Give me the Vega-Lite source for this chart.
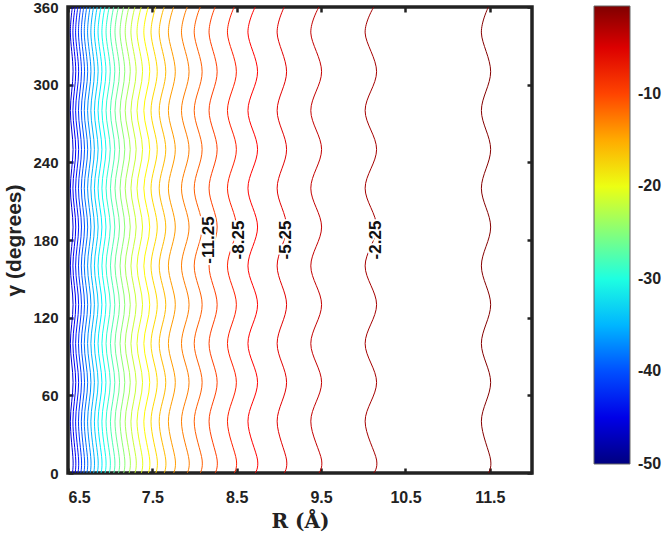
{
"$schema": "https://vega.github.io/schema/vega-lite/v6.json",
"width": 464, "height": 466,
"autosize": "none",
"padding": {"left": 68, "top": 7, "right": 132, "bottom": 60},
"background": "white",
"config": {"view": {"stroke": "#222", "strokeWidth": 3.5}, "font": "Liberation Sans"},
"datasets": {
"c": [
{"v":-45.75,"g":0,"r":6.552},{"v":-45.75,"g":10,"r":6.56},{"v":-45.75,"g":40,"r":6.528},{"v":-45.75,"g":70,"r":6.56},{"v":-45.75,"g":100,"r":6.528},{"v":-45.75,"g":130,"r":6.56},{"v":-45.75,"g":160,"r":6.528},{"v":-45.75,"g":190,"r":6.56},{"v":-45.75,"g":220,"r":6.528},{"v":-45.75,"g":250,"r":6.56},{"v":-45.75,"g":280,"r":6.528},{"v":-45.75,"g":310,"r":6.56},{"v":-45.75,"g":340,"r":6.528},{"v":-45.75,"g":360,"r":6.552},
{"v":-44.25,"g":0,"r":6.584},{"v":-44.25,"g":10,"r":6.592},{"v":-44.25,"g":40,"r":6.558},{"v":-44.25,"g":70,"r":6.592},{"v":-44.25,"g":100,"r":6.558},{"v":-44.25,"g":130,"r":6.592},{"v":-44.25,"g":160,"r":6.558},{"v":-44.25,"g":190,"r":6.592},{"v":-44.25,"g":220,"r":6.558},{"v":-44.25,"g":250,"r":6.592},{"v":-44.25,"g":280,"r":6.558},{"v":-44.25,"g":310,"r":6.592},{"v":-44.25,"g":340,"r":6.558},{"v":-44.25,"g":360,"r":6.584},
{"v":-42.75,"g":0,"r":6.617},{"v":-42.75,"g":10,"r":6.626},{"v":-42.75,"g":40,"r":6.59},{"v":-42.75,"g":70,"r":6.626},{"v":-42.75,"g":100,"r":6.59},{"v":-42.75,"g":130,"r":6.626},{"v":-42.75,"g":160,"r":6.59},{"v":-42.75,"g":190,"r":6.626},{"v":-42.75,"g":220,"r":6.59},{"v":-42.75,"g":250,"r":6.626},{"v":-42.75,"g":280,"r":6.59},{"v":-42.75,"g":310,"r":6.626},{"v":-42.75,"g":340,"r":6.59},{"v":-42.75,"g":360,"r":6.617},
{"v":-41.25,"g":0,"r":6.651},{"v":-41.25,"g":10,"r":6.66},{"v":-41.25,"g":40,"r":6.624},{"v":-41.25,"g":70,"r":6.66},{"v":-41.25,"g":100,"r":6.624},{"v":-41.25,"g":130,"r":6.66},{"v":-41.25,"g":160,"r":6.624},{"v":-41.25,"g":190,"r":6.66},{"v":-41.25,"g":220,"r":6.624},{"v":-41.25,"g":250,"r":6.66},{"v":-41.25,"g":280,"r":6.624},{"v":-41.25,"g":310,"r":6.66},{"v":-41.25,"g":340,"r":6.624},{"v":-41.25,"g":360,"r":6.651},
{"v":-39.75,"g":0,"r":6.687},{"v":-39.75,"g":10,"r":6.696},{"v":-39.75,"g":40,"r":6.658},{"v":-39.75,"g":70,"r":6.696},{"v":-39.75,"g":100,"r":6.658},{"v":-39.75,"g":130,"r":6.696},{"v":-39.75,"g":160,"r":6.658},{"v":-39.75,"g":190,"r":6.696},{"v":-39.75,"g":220,"r":6.658},{"v":-39.75,"g":250,"r":6.696},{"v":-39.75,"g":280,"r":6.658},{"v":-39.75,"g":310,"r":6.696},{"v":-39.75,"g":340,"r":6.658},{"v":-39.75,"g":360,"r":6.687},
{"v":-38.25,"g":0,"r":6.723},{"v":-38.25,"g":10,"r":6.733},{"v":-38.25,"g":40,"r":6.693},{"v":-38.25,"g":70,"r":6.733},{"v":-38.25,"g":100,"r":6.693},{"v":-38.25,"g":130,"r":6.733},{"v":-38.25,"g":160,"r":6.693},{"v":-38.25,"g":190,"r":6.733},{"v":-38.25,"g":220,"r":6.693},{"v":-38.25,"g":250,"r":6.733},{"v":-38.25,"g":280,"r":6.693},{"v":-38.25,"g":310,"r":6.733},{"v":-38.25,"g":340,"r":6.693},{"v":-38.25,"g":360,"r":6.723},
{"v":-36.75,"g":0,"r":6.762},{"v":-36.75,"g":10,"r":6.772},{"v":-36.75,"g":40,"r":6.732},{"v":-36.75,"g":70,"r":6.772},{"v":-36.75,"g":100,"r":6.732},{"v":-36.75,"g":130,"r":6.772},{"v":-36.75,"g":160,"r":6.732},{"v":-36.75,"g":190,"r":6.772},{"v":-36.75,"g":220,"r":6.732},{"v":-36.75,"g":250,"r":6.772},{"v":-36.75,"g":280,"r":6.732},{"v":-36.75,"g":310,"r":6.772},{"v":-36.75,"g":340,"r":6.732},{"v":-36.75,"g":360,"r":6.762},
{"v":-35.25,"g":0,"r":6.803},{"v":-35.25,"g":10,"r":6.813},{"v":-35.25,"g":40,"r":6.771},{"v":-35.25,"g":70,"r":6.813},{"v":-35.25,"g":100,"r":6.771},{"v":-35.25,"g":130,"r":6.813},{"v":-35.25,"g":160,"r":6.771},{"v":-35.25,"g":190,"r":6.813},{"v":-35.25,"g":220,"r":6.771},{"v":-35.25,"g":250,"r":6.813},{"v":-35.25,"g":280,"r":6.771},{"v":-35.25,"g":310,"r":6.813},{"v":-35.25,"g":340,"r":6.771},{"v":-35.25,"g":360,"r":6.803},
{"v":-33.75,"g":0,"r":6.846},{"v":-33.75,"g":10,"r":6.857},{"v":-33.75,"g":40,"r":6.813},{"v":-33.75,"g":70,"r":6.857},{"v":-33.75,"g":100,"r":6.813},{"v":-33.75,"g":130,"r":6.857},{"v":-33.75,"g":160,"r":6.813},{"v":-33.75,"g":190,"r":6.857},{"v":-33.75,"g":220,"r":6.813},{"v":-33.75,"g":250,"r":6.857},{"v":-33.75,"g":280,"r":6.813},{"v":-33.75,"g":310,"r":6.857},{"v":-33.75,"g":340,"r":6.813},{"v":-33.75,"g":360,"r":6.846},
{"v":-32.25,"g":0,"r":6.891},{"v":-32.25,"g":10,"r":6.902},{"v":-32.25,"g":40,"r":6.856},{"v":-32.25,"g":70,"r":6.902},{"v":-32.25,"g":100,"r":6.856},{"v":-32.25,"g":130,"r":6.902},{"v":-32.25,"g":160,"r":6.856},{"v":-32.25,"g":190,"r":6.902},{"v":-32.25,"g":220,"r":6.856},{"v":-32.25,"g":250,"r":6.902},{"v":-32.25,"g":280,"r":6.856},{"v":-32.25,"g":310,"r":6.902},{"v":-32.25,"g":340,"r":6.856},{"v":-32.25,"g":360,"r":6.891},
{"v":-30.75,"g":0,"r":6.938},{"v":-30.75,"g":10,"r":6.95},{"v":-30.75,"g":40,"r":6.902},{"v":-30.75,"g":70,"r":6.95},{"v":-30.75,"g":100,"r":6.902},{"v":-30.75,"g":130,"r":6.95},{"v":-30.75,"g":160,"r":6.902},{"v":-30.75,"g":190,"r":6.95},{"v":-30.75,"g":220,"r":6.902},{"v":-30.75,"g":250,"r":6.95},{"v":-30.75,"g":280,"r":6.902},{"v":-30.75,"g":310,"r":6.95},{"v":-30.75,"g":340,"r":6.902},{"v":-30.75,"g":360,"r":6.938},
{"v":-29.25,"g":0,"r":6.989},{"v":-29.25,"g":10,"r":7.001},{"v":-29.25,"g":40,"r":6.951},{"v":-29.25,"g":70,"r":7.001},{"v":-29.25,"g":100,"r":6.951},{"v":-29.25,"g":130,"r":7.001},{"v":-29.25,"g":160,"r":6.951},{"v":-29.25,"g":190,"r":7.001},{"v":-29.25,"g":220,"r":6.951},{"v":-29.25,"g":250,"r":7.001},{"v":-29.25,"g":280,"r":6.951},{"v":-29.25,"g":310,"r":7.001},{"v":-29.25,"g":340,"r":6.951},{"v":-29.25,"g":360,"r":6.989},
{"v":-27.75,"g":0,"r":7.042},{"v":-27.75,"g":10,"r":7.055},{"v":-27.75,"g":40,"r":7.003},{"v":-27.75,"g":70,"r":7.055},{"v":-27.75,"g":100,"r":7.003},{"v":-27.75,"g":130,"r":7.055},{"v":-27.75,"g":160,"r":7.003},{"v":-27.75,"g":190,"r":7.055},{"v":-27.75,"g":220,"r":7.003},{"v":-27.75,"g":250,"r":7.055},{"v":-27.75,"g":280,"r":7.003},{"v":-27.75,"g":310,"r":7.055},{"v":-27.75,"g":340,"r":7.003},{"v":-27.75,"g":360,"r":7.042},
{"v":-26.25,"g":0,"r":7.098},{"v":-26.25,"g":10,"r":7.111},{"v":-26.25,"g":40,"r":7.057},{"v":-26.25,"g":70,"r":7.111},{"v":-26.25,"g":100,"r":7.057},{"v":-26.25,"g":130,"r":7.111},{"v":-26.25,"g":160,"r":7.057},{"v":-26.25,"g":190,"r":7.111},{"v":-26.25,"g":220,"r":7.057},{"v":-26.25,"g":250,"r":7.111},{"v":-26.25,"g":280,"r":7.057},{"v":-26.25,"g":310,"r":7.111},{"v":-26.25,"g":340,"r":7.057},{"v":-26.25,"g":360,"r":7.098},
{"v":-24.75,"g":0,"r":7.159},{"v":-24.75,"g":10,"r":7.173},{"v":-24.75,"g":40,"r":7.117},{"v":-24.75,"g":70,"r":7.173},{"v":-24.75,"g":100,"r":7.117},{"v":-24.75,"g":130,"r":7.173},{"v":-24.75,"g":160,"r":7.117},{"v":-24.75,"g":190,"r":7.173},{"v":-24.75,"g":220,"r":7.117},{"v":-24.75,"g":250,"r":7.173},{"v":-24.75,"g":280,"r":7.117},{"v":-24.75,"g":310,"r":7.173},{"v":-24.75,"g":340,"r":7.117},{"v":-24.75,"g":360,"r":7.159},
{"v":-23.25,"g":0,"r":7.223},{"v":-23.25,"g":10,"r":7.238},{"v":-23.25,"g":40,"r":7.178},{"v":-23.25,"g":70,"r":7.238},{"v":-23.25,"g":100,"r":7.178},{"v":-23.25,"g":130,"r":7.238},{"v":-23.25,"g":160,"r":7.178},{"v":-23.25,"g":190,"r":7.238},{"v":-23.25,"g":220,"r":7.178},{"v":-23.25,"g":250,"r":7.238},{"v":-23.25,"g":280,"r":7.178},{"v":-23.25,"g":310,"r":7.238},{"v":-23.25,"g":340,"r":7.178},{"v":-23.25,"g":360,"r":7.223},
{"v":-21.75,"g":0,"r":7.293},{"v":-21.75,"g":10,"r":7.308},{"v":-21.75,"g":40,"r":7.246},{"v":-21.75,"g":70,"r":7.308},{"v":-21.75,"g":100,"r":7.246},{"v":-21.75,"g":130,"r":7.308},{"v":-21.75,"g":160,"r":7.246},{"v":-21.75,"g":190,"r":7.308},{"v":-21.75,"g":220,"r":7.246},{"v":-21.75,"g":250,"r":7.308},{"v":-21.75,"g":280,"r":7.246},{"v":-21.75,"g":310,"r":7.308},{"v":-21.75,"g":340,"r":7.246},{"v":-21.75,"g":360,"r":7.293},
{"v":-20.25,"g":0,"r":7.368},{"v":-20.25,"g":10,"r":7.384},{"v":-20.25,"g":40,"r":7.318},{"v":-20.25,"g":70,"r":7.384},{"v":-20.25,"g":100,"r":7.318},{"v":-20.25,"g":130,"r":7.384},{"v":-20.25,"g":160,"r":7.318},{"v":-20.25,"g":190,"r":7.384},{"v":-20.25,"g":220,"r":7.318},{"v":-20.25,"g":250,"r":7.384},{"v":-20.25,"g":280,"r":7.318},{"v":-20.25,"g":310,"r":7.384},{"v":-20.25,"g":340,"r":7.318},{"v":-20.25,"g":360,"r":7.368},
{"v":-18.75,"g":0,"r":7.452},{"v":-18.75,"g":10,"r":7.469},{"v":-18.75,"g":40,"r":7.399},{"v":-18.75,"g":70,"r":7.469},{"v":-18.75,"g":100,"r":7.399},{"v":-18.75,"g":130,"r":7.469},{"v":-18.75,"g":160,"r":7.399},{"v":-18.75,"g":190,"r":7.469},{"v":-18.75,"g":220,"r":7.399},{"v":-18.75,"g":250,"r":7.469},{"v":-18.75,"g":280,"r":7.399},{"v":-18.75,"g":310,"r":7.469},{"v":-18.75,"g":340,"r":7.399},{"v":-18.75,"g":360,"r":7.452},
{"v":-17.25,"g":0,"r":7.54},{"v":-17.25,"g":10,"r":7.558},{"v":-17.25,"g":40,"r":7.484},{"v":-17.25,"g":70,"r":7.558},{"v":-17.25,"g":100,"r":7.484},{"v":-17.25,"g":130,"r":7.558},{"v":-17.25,"g":160,"r":7.484},{"v":-17.25,"g":190,"r":7.558},{"v":-17.25,"g":220,"r":7.484},{"v":-17.25,"g":250,"r":7.558},{"v":-17.25,"g":280,"r":7.484},{"v":-17.25,"g":310,"r":7.558},{"v":-17.25,"g":340,"r":7.484},{"v":-17.25,"g":360,"r":7.54},
{"v":-15.75,"g":0,"r":7.64},{"v":-15.75,"g":10,"r":7.659},{"v":-15.75,"g":40,"r":7.581},{"v":-15.75,"g":70,"r":7.659},{"v":-15.75,"g":100,"r":7.581},{"v":-15.75,"g":130,"r":7.659},{"v":-15.75,"g":160,"r":7.581},{"v":-15.75,"g":190,"r":7.659},{"v":-15.75,"g":220,"r":7.581},{"v":-15.75,"g":250,"r":7.659},{"v":-15.75,"g":280,"r":7.581},{"v":-15.75,"g":310,"r":7.659},{"v":-15.75,"g":340,"r":7.581},{"v":-15.75,"g":360,"r":7.64},
{"v":-14.25,"g":0,"r":7.752},{"v":-14.25,"g":10,"r":7.772},{"v":-14.25,"g":40,"r":7.69},{"v":-14.25,"g":70,"r":7.772},{"v":-14.25,"g":100,"r":7.69},{"v":-14.25,"g":130,"r":7.772},{"v":-14.25,"g":160,"r":7.69},{"v":-14.25,"g":190,"r":7.772},{"v":-14.25,"g":220,"r":7.69},{"v":-14.25,"g":250,"r":7.772},{"v":-14.25,"g":280,"r":7.69},{"v":-14.25,"g":310,"r":7.772},{"v":-14.25,"g":340,"r":7.69},{"v":-14.25,"g":360,"r":7.752},
{"v":-12.75,"g":0,"r":7.913},{"v":-12.75,"g":10,"r":7.935},{"v":-12.75,"g":40,"r":7.845},{"v":-12.75,"g":70,"r":7.935},{"v":-12.75,"g":100,"r":7.845},{"v":-12.75,"g":130,"r":7.935},{"v":-12.75,"g":160,"r":7.845},{"v":-12.75,"g":190,"r":7.935},{"v":-12.75,"g":220,"r":7.845},{"v":-12.75,"g":250,"r":7.935},{"v":-12.75,"g":280,"r":7.845},{"v":-12.75,"g":310,"r":7.935},{"v":-12.75,"g":340,"r":7.845},{"v":-12.75,"g":360,"r":7.913},
{"v":-11.25,"g":0,"r":8.067},{"v":-11.25,"g":10,"r":8.09},{"v":-11.25,"g":40,"r":7.996},{"v":-11.25,"g":70,"r":8.09},{"v":-11.25,"g":100,"r":7.996},{"v":-11.25,"g":130,"r":8.09},{"v":-11.25,"g":160,"r":7.996},{"v":-11.25,"g":190,"r":8.09},{"v":-11.25,"g":220,"r":7.996},{"v":-11.25,"g":250,"r":8.09},{"v":-11.25,"g":280,"r":7.996},{"v":-11.25,"g":310,"r":8.09},{"v":-11.25,"g":340,"r":7.996},{"v":-11.25,"g":360,"r":8.067},
{"v":-9.75,"g":0,"r":8.244},{"v":-9.75,"g":10,"r":8.268},{"v":-9.75,"g":40,"r":8.172},{"v":-9.75,"g":70,"r":8.268},{"v":-9.75,"g":100,"r":8.172},{"v":-9.75,"g":130,"r":8.268},{"v":-9.75,"g":160,"r":8.172},{"v":-9.75,"g":190,"r":8.268},{"v":-9.75,"g":220,"r":8.172},{"v":-9.75,"g":250,"r":8.268},{"v":-9.75,"g":280,"r":8.172},{"v":-9.75,"g":310,"r":8.268},{"v":-9.75,"g":340,"r":8.172},{"v":-9.75,"g":360,"r":8.244},
{"v":-8.25,"g":0,"r":8.47},{"v":-8.25,"g":10,"r":8.496},{"v":-8.25,"g":40,"r":8.39},{"v":-8.25,"g":70,"r":8.496},{"v":-8.25,"g":100,"r":8.39},{"v":-8.25,"g":130,"r":8.496},{"v":-8.25,"g":160,"r":8.39},{"v":-8.25,"g":190,"r":8.496},{"v":-8.25,"g":220,"r":8.39},{"v":-8.25,"g":250,"r":8.496},{"v":-8.25,"g":280,"r":8.39},{"v":-8.25,"g":310,"r":8.496},{"v":-8.25,"g":340,"r":8.39},{"v":-8.25,"g":360,"r":8.47},
{"v":-6.75,"g":0,"r":8.719},{"v":-6.75,"g":10,"r":8.747},{"v":-6.75,"g":40,"r":8.633},{"v":-6.75,"g":70,"r":8.747},{"v":-6.75,"g":100,"r":8.633},{"v":-6.75,"g":130,"r":8.747},{"v":-6.75,"g":160,"r":8.633},{"v":-6.75,"g":190,"r":8.747},{"v":-6.75,"g":220,"r":8.633},{"v":-6.75,"g":250,"r":8.747},{"v":-6.75,"g":280,"r":8.633},{"v":-6.75,"g":310,"r":8.747},{"v":-6.75,"g":340,"r":8.633},{"v":-6.75,"g":360,"r":8.719},
{"v":-5.25,"g":0,"r":9.063},{"v":-5.25,"g":10,"r":9.091},{"v":-5.25,"g":40,"r":8.979},{"v":-5.25,"g":70,"r":9.091},{"v":-5.25,"g":100,"r":8.979},{"v":-5.25,"g":130,"r":9.091},{"v":-5.25,"g":160,"r":8.979},{"v":-5.25,"g":190,"r":9.091},{"v":-5.25,"g":220,"r":8.979},{"v":-5.25,"g":250,"r":9.091},{"v":-5.25,"g":280,"r":8.979},{"v":-5.25,"g":310,"r":9.091},{"v":-5.25,"g":340,"r":8.979},{"v":-5.25,"g":360,"r":9.063},
{"v":-3.75,"g":0,"r":9.474},{"v":-3.75,"g":10,"r":9.506},{"v":-3.75,"g":40,"r":9.378},{"v":-3.75,"g":70,"r":9.506},{"v":-3.75,"g":100,"r":9.378},{"v":-3.75,"g":130,"r":9.506},{"v":-3.75,"g":160,"r":9.378},{"v":-3.75,"g":190,"r":9.506},{"v":-3.75,"g":220,"r":9.378},{"v":-3.75,"g":250,"r":9.506},{"v":-3.75,"g":280,"r":9.378},{"v":-3.75,"g":310,"r":9.506},{"v":-3.75,"g":340,"r":9.378},{"v":-3.75,"g":360,"r":9.474},
{"v":-2.25,"g":0,"r":10.124},{"v":-2.25,"g":10,"r":10.158},{"v":-2.25,"g":40,"r":10.022},{"v":-2.25,"g":70,"r":10.158},{"v":-2.25,"g":100,"r":10.022},{"v":-2.25,"g":130,"r":10.158},{"v":-2.25,"g":160,"r":10.022},{"v":-2.25,"g":190,"r":10.158},{"v":-2.25,"g":220,"r":10.022},{"v":-2.25,"g":250,"r":10.158},{"v":-2.25,"g":280,"r":10.022},{"v":-2.25,"g":310,"r":10.158},{"v":-2.25,"g":340,"r":10.022},{"v":-2.25,"g":360,"r":10.124},
{"v":-0.75,"g":0,"r":11.483},{"v":-0.75,"g":10,"r":11.51},{"v":-0.75,"g":40,"r":11.4},{"v":-0.75,"g":70,"r":11.51},{"v":-0.75,"g":100,"r":11.4},{"v":-0.75,"g":130,"r":11.51},{"v":-0.75,"g":160,"r":11.4},{"v":-0.75,"g":190,"r":11.51},{"v":-0.75,"g":220,"r":11.4},{"v":-0.75,"g":250,"r":11.51},{"v":-0.75,"g":280,"r":11.4},{"v":-0.75,"g":310,"r":11.51},{"v":-0.75,"g":340,"r":11.4},{"v":-0.75,"g":360,"r":11.483}
],
"lab": [
{"t":"-11.25","r":8.173,"g":180},{"t":"-8.25","r":8.526,"g":180},{"t":"-5.25","r":9.079,"g":180},{"t":"-2.25","r":10.151,"g":180}
]
},
"layer": [
{
"data": {"name": "c"},
"mark": {"type": "line", "interpolate": "cardinal", "strokeWidth": 1, "clip": true},
"encoding": {
"x": {"field": "r", "type": "quantitative", "scale": {"domain": [6.5, 12], "nice": false, "zero": false},
"axis": {"orient": "bottom", "values": [6.5, 7.5, 8.5, 9.5, 10.5, 11.5], "format": ".1f", "domain": false, "grid": false, "tickSize": -5, "tickWidth": 2.5, "tickColor": "#222", "labelPadding": 21, "labelFontSize": 16, "labelFontWeight": "bold", "labelColor": "#222", "title": "R (Å)", "titleFont": "DejaVu Serif", "titleFontSize": 20, "titleFontWeight": "bold", "titlePadding": 6, "titleColor": "#222"}},
"y": {"field": "g", "type": "quantitative", "scale": {"domain": [0, 360], "nice": false},
"axis": {"orient": "left", "values": [0, 60, 120, 180, 240, 300, 360], "domain": false, "grid": false, "tickSize": -5, "tickWidth": 2.5, "tickColor": "#222", "labelPadding": 15, "labelFontSize": 15, "labelFontWeight": "bold", "labelColor": "#222", "title": "γ (degrees)", "titleFontSize": 21, "titleFontWeight": "bold", "titlePadding": 8, "titleColor": "#222"}},
"color": {"field": "v", "type": "quantitative",
"scale": {"domain": [-50, -43.8125, -31.4375, -19.0625, -6.6875, -0.5], "range": ["#000080", "#0000ff", "#00ffff", "#ffff00", "#ff0000", "#800000"], "interpolate": "rgb"},
"legend": {"orient": "none", "legendX": 526, "legendY": -1, "direction": "vertical", "gradientLength": 458, "gradientThickness": 36, "title": null, "values": [-50, -40, -30, -20, -10], "labelExpr": "datum.value + ''", "labelFontSize": 16, "labelFontWeight": "bold", "labelColor": "#222", "labelOffset": 8, "labelOverlap": false, "gradientStrokeColor": "#666", "gradientStrokeWidth": 1, "padding": 0,
"encode": {"labels": {"update": {"baseline": {"value": "middle"}}}}}},
"detail": {"field": "v", "type": "nominal"},
"order": {"field": "g", "type": "quantitative"}
}
},
{
"data": {"name": "lab"},
"mark": {"type": "text", "angle": 270, "fontSize": 17, "fontWeight": "bold", "stroke": "white", "strokeWidth": 4, "strokeJoin": "round", "fill": "white"},
"encoding": {
"x": {"field": "r", "type": "quantitative", "axis": null},
"y": {"field": "g", "type": "quantitative", "axis": null},
"text": {"field": "t"}
}
},
{
"data": {"name": "lab"},
"mark": {"type": "text", "angle": 270, "fontSize": 17, "fontWeight": "bold", "color": "#111"},
"encoding": {
"x": {"field": "r", "type": "quantitative", "axis": {"orient": "top", "values": [6.5, 7.5, 8.5, 9.5, 10.5, 11.5], "labels": false, "title": null, "domain": false, "grid": false, "tickSize": -5, "tickWidth": 2.5, "tickColor": "#222"}},
"y": {"field": "g", "type": "quantitative", "axis": {"orient": "right", "values": [0, 60, 120, 180, 240, 300, 360], "labels": false, "title": null, "domain": false, "grid": false, "tickSize": -5, "tickWidth": 2.5, "tickColor": "#222"}},
"text": {"field": "t"}
}
}
],
"resolve": {"axis": {"x": "independent", "y": "independent"}}
}
